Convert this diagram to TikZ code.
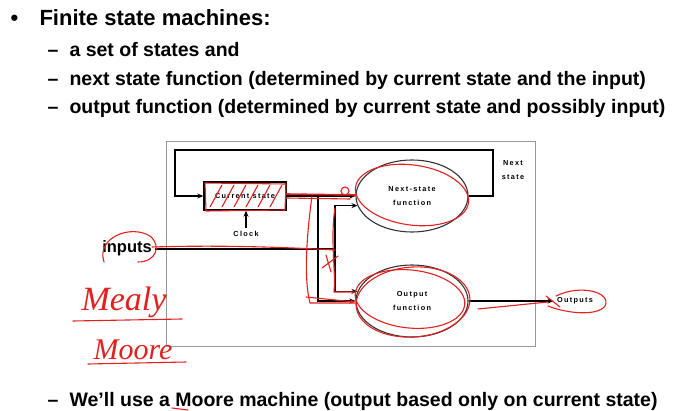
\documentclass[tikz,border=0pt]{standalone}
\usepackage{fontspec}
\setmainfont{Liberation Sans}
\newfontfamily\spaced[LetterSpace=18]{Liberation Sans}
\newfontfamily\hand{Liberation Serif}
\usetikzlibrary{arrows.meta,shapes.geometric}
\definecolor{ink}{RGB}{226,32,32}
\tikzset{
  arr/.style={line width=1.4pt,-{Stealth[length=6pt,width=5pt]}},
  wire/.style={line width=1.4pt},
  statebox/.style={draw,line width=1.4pt,minimum width=82pt,minimum height=28pt,inner sep=0pt},
  fnbox/.style={ellipse,draw=black!80,line width=1.1pt,minimum width=112pt,minimum height=72pt,inner sep=0pt},
  lbl/.style={font=\spaced\bfseries\fontsize{7.3}{14}\selectfont,align=center},
  headline/.style={anchor=base west,font=\bfseries\fontsize{22}{26}\selectfont},
  subline/.style={anchor=base west,font=\bfseries\fontsize{19.5}{24}\selectfont},
  scribble/.style={draw=ink,line width=1.1pt,line cap=round,line join=round},
}
\begin{document}
\begin{tikzpicture}[x=1pt,y=-1pt]
  \useasboundingbox (0,0) rectangle (674,411);
  % Slide text
  \node[headline] (dot) at (7,26) {•};
  \node[headline] (title) at (36,26) {Finite state machines:};
  \node[subline] (d1) at (44,57) {–};
  \node[subline] (t1) at (66,57) {a set of states and};
  \node[subline] (d2) at (44,86) {–};
  \node[subline] (t2) at (66,86) {next state function (determined by current state and the input)};
  \node[subline] (d3) at (44,114) {–};
  \node[subline] (t3) at (66,114) {output function (determined by current state and possibly input)};
  \node[subline] (d4) at (44,406) {–};
  \node[subline] (t4) at (66,406) {We’ll use a Moore machine (output based only on current state)};

  % Frame of the machine
  \draw [black!40, line width=0.8pt] (166,141) rectangle (535,346);

  % States and functions
  \node[statebox, lbl] (cs) at (245,196) {Current state};
  \node[fnbox, lbl] (nsf) at (412,196) {Next-state\\function};
  \node[fnbox, lbl] (of) at (412,301) {Output\\function};
  \node[lbl] (clk) at (246,234) {Clock};
  \node[lbl] (ns) at (513,170) {Next\\state};
  \node[lbl] (out) at (575,301) {Outputs};
  \node[anchor=base, font=\bfseries\fontsize{16.5}{20}\selectfont] (in) at (127,253) {inputs};

  % Junctions and loop corners
  \coordinate (jcs) at (318,196);
  \coordinate (jin) at (335,249);
  \coordinate (tr) at (493,150);
  \coordinate (tl) at (175,150);

  % Connectors
  \draw [arr] (nsf.east) -- (nsf.east -| tr) -- (tr) -- (tl) |- (cs.west);
  \draw [arr] (cs.east) -- (nsf.west);
  \filldraw (jcs) circle (1.8pt);
  \draw [arr] (jcs) |- (of.west);
  \draw [wire] (in.east |- jin) -- (jin);
  \draw [arr] (jin) |- (nsf.190);
  \draw [arr] (jin) |- (of.170);
  \draw [arr] (clk.north) -- (cs.south -| clk.north);
  \draw [arr] (of.east) -- (out.west);

  % Red pen notes
  \foreach \x in {210,222,234,246,258,270}
    \draw [scribble] (\x,207) -- (\x+12,185);
  \draw [scribble] (205,183) -- (286,184) -- (285,210) -- (206,211) -- cycle;
  \draw [scribble, line width=1.6pt] (286,194) -- (356,195);
  \draw [scribble] (286,198) -- (350,199);
  \draw [scribble] (345,191) circle (4pt);
  \draw [scribble, rotate around={-8:(412,195)}] (412,195) ellipse (57pt and 30pt);
  \draw [scribble] (312,196) .. controls (306,240) and (304,280) .. (310,303) -- (355,303);
  \draw [scribble, -{Stealth[length=5pt]}] (306,297) -- (355,302);
  \draw [scribble] (335,208) .. controls (330,240) and (336,270) .. (334,292) -- (355,292);
  \draw [scribble] (152,247) .. controls (220,245) and (280,247) .. (335,250);
  \draw [scribble] (322,268) -- (338,256) (326,255) -- (331,272);
  \draw [scribble, rotate around={-6:(410,299)}] (410,299) ellipse (55pt and 29pt);
  \draw [scribble, rotate around={4:(413,302)}] (413,302) ellipse (57pt and 35pt);
  \draw [scribble] (478,309) -- (548,302);
  \draw [scribble] (546,296) -- (560,307);
  \draw [scribble] (556,296) .. controls (580,284) and (612,292) .. (605,306) .. controls (598,316) and (568,314) .. (548,306);
  \draw [scribble] (104,262) .. controls (96,238) and (130,224) .. (150,236) .. controls (162,246) and (156,262) .. (138,262);
  \node[text=ink, font=\hand\itshape\fontsize{34}{34}\selectfont] (mealy) at (124,302) {Mealy};
  \node[text=ink, font=\hand\itshape\fontsize{30}{30}\selectfont] (moore) at (133,350) {Moore};
  \draw [scribble] (73,321) -- (182,319);
  \draw [scribble] (88,364) -- (186,362);
  \draw [scribble] (172,408) -- (188,410);
\end{tikzpicture}
\end{document}
